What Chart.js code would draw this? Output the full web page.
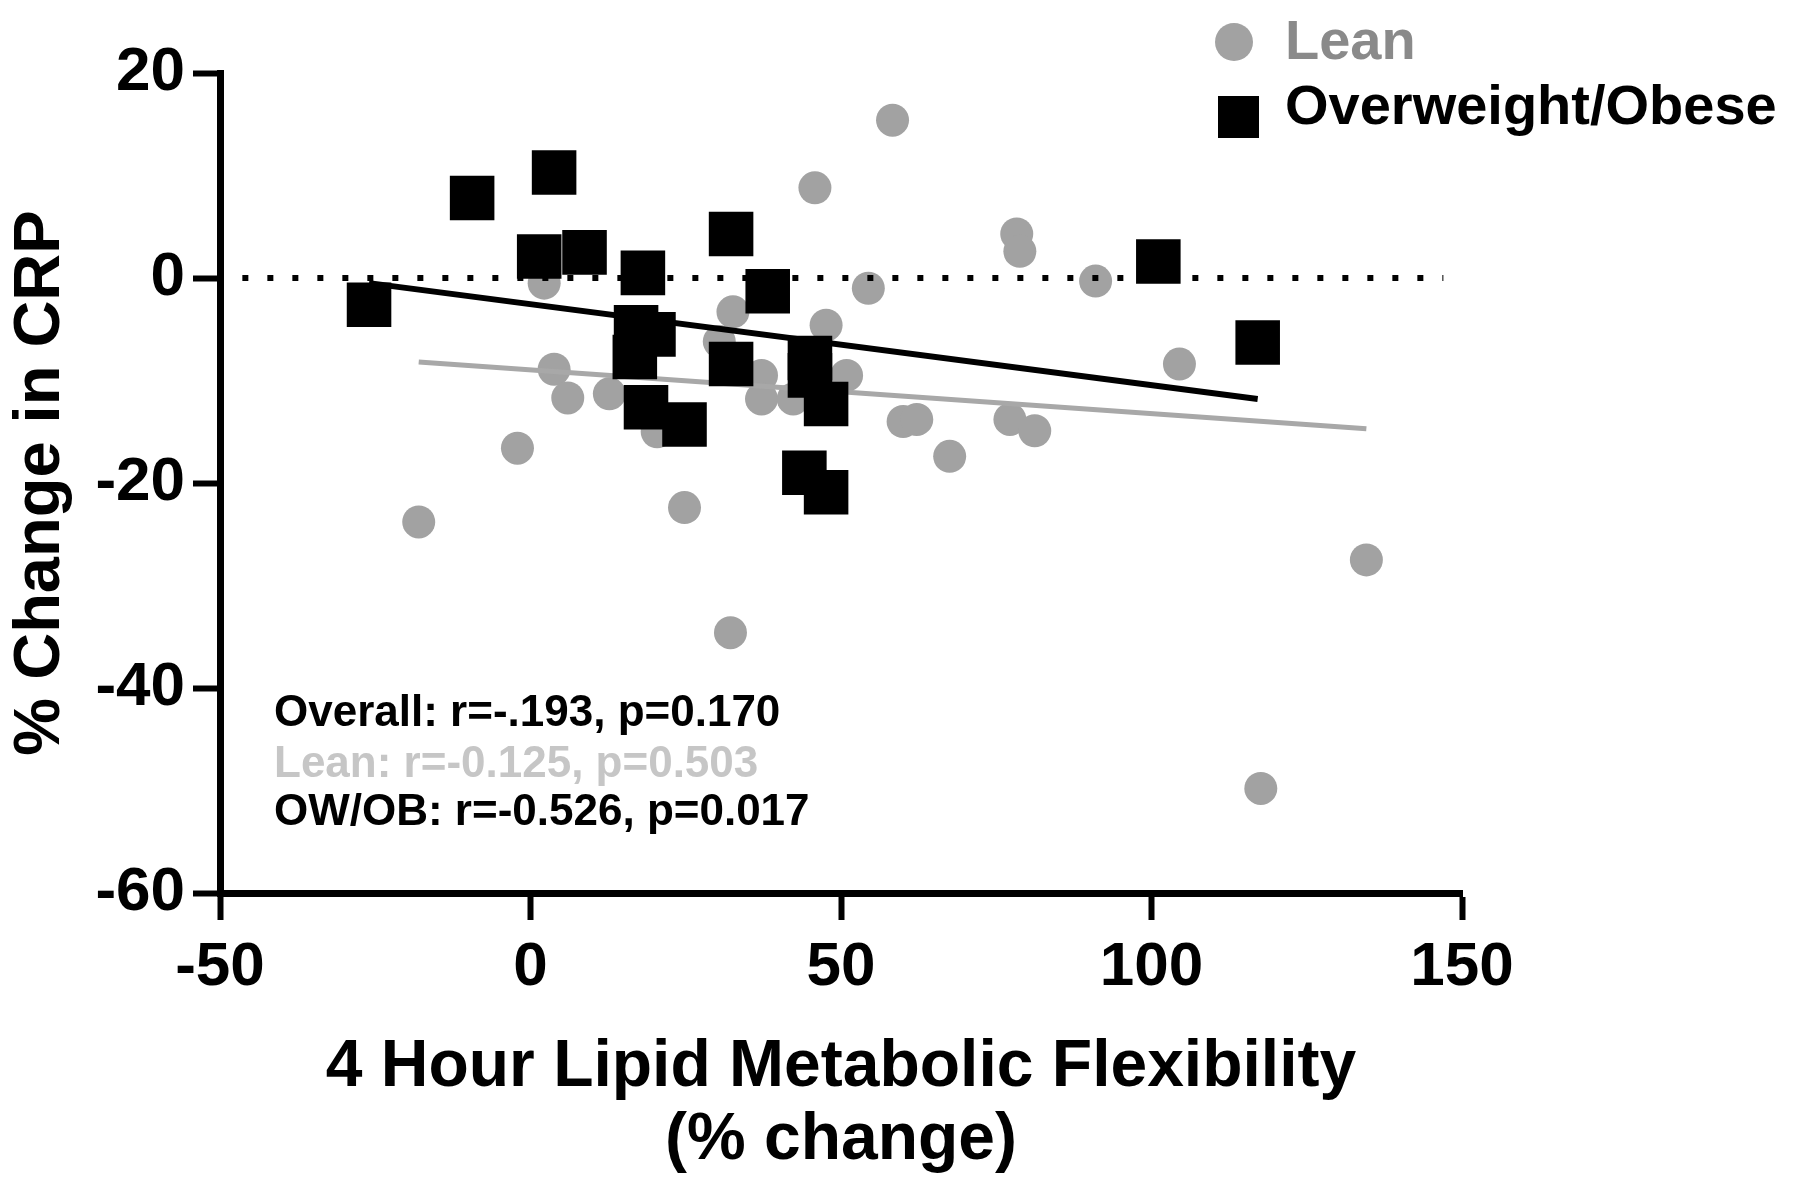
<!DOCTYPE html>
<html>
<head>
<meta charset="utf-8">
<script src="https://cdn.jsdelivr.net/npm/chart.js@4.4.1/dist/chart.umd.min.js"></script>
<style>
  html, body { margin: 0; padding: 0; background: #ffffff; }
  #wrap { width: 1800px; height: 1192px; position: relative; }
  canvas { display: block; }
</style>
</head>
<body>
<div id="wrap"><canvas id="c" width="1800" height="1192"></canvas></div>
<script>
// ---- data ----
const leanX = [58.3, 45.8, 78.3, 78.8, 54.4, 91.0, 2.2, 104.5, 3.8, 6.0, 12.7, -2.1, -18.0, 24.8, 32.2, 134.6, 117.6, 67.5, 60.0, 62.2, 77.2, 81.2, 32.6, 47.6, 50.9, 37.2, 37.2, 42.3, 30.4, 20.4];
const leanY = [15.4, 8.8, 4.3, 2.6, -1.0, -0.3, -0.5, -8.4, -8.9, -11.7, -11.3, -16.6, -23.8, -22.4, -34.6, -27.5, -49.8, -17.4, -14.0, -13.8, -13.8, -14.9, -3.3, -4.6, -9.5, -9.5, -11.8, -11.8, -6.2, -15.0];
const owX = [-26.0, -9.4, 1.4, 3.8, 8.7, 18.1, 17.0, 19.8, 16.8, 18.6, 24.8, 32.3, 38.2, 32.3, 45.0, 45.0, 47.6, 44.1, 47.6, 101.1, 117.1];
const owY = [-2.6, 7.8, 2.1, 10.3, 2.5, 0.5, -4.8, -5.5, -7.7, -12.6, -14.3, 4.3, -1.3, -8.4, -7.8, -9.5, -12.3, -19.0, -20.9, 1.6, -6.3];
const owFitX = [-26.0, 117.1];
const owFitY = [-0.5, -11.8];
const leanFitX = [-18.0, 134.6];
const leanFitY = [-8.2, -14.7];
const zeroX = [-46.4, 147.0];
const zeroY = [0, 0];
const xTicks = [-50, 0, 50, 100, 150];
const yTicks = [-60, -40, -20, 0, 20];
const seriesNames = ['Lean', 'Overweight/Obese'];
const statsText = ['Overall: r=-.193, p=0.170', 'Lean: r=-0.125, p=0.503', 'OW/OB: r=-0.526, p=0.017'];
const xTitle = ['4 Hour Lipid Metabolic Flexibility', '(% change)'];
const yTitle = '% Change in CRP';

const pts = (xs, ys) => xs.map((x, i) => ({ x: x, y: ys[i] }));
const FONT = '"Liberation Sans", Arial, Helvetica, sans-serif';
const LEAN_COL = '#a2a2a2';

const overlay = {
  id: 'overlay',
  afterDraw(chart) {
    const ctx = chart.ctx;
    ctx.save();
    // stats text
    ctx.font = 'bold 44px ' + FONT;
    ctx.textAlign = 'left';
    ctx.textBaseline = 'alphabetic';
    const cols = ['#000000', '#c6c6c6', '#000000'];
    const bases = [726, 777, 825];
    statsText.forEach((t, i) => { ctx.fillStyle = cols[i]; ctx.fillText(t, 274, bases[i]); });
    // legend
    ctx.fillStyle = LEAN_COL;
    ctx.beginPath(); ctx.arc(1234, 42, 19, 0, Math.PI * 2); ctx.fill();
    ctx.fillStyle = '#000000';
    ctx.fillRect(1218, 96, 41, 42);
    ctx.font = 'bold 56px ' + FONT;
    ctx.fillStyle = '#8a8a8a';
    ctx.fillText(seriesNames[0], 1285, 59);
    ctx.fillStyle = '#000000';
    ctx.fillText(seriesNames[1], 1285, 124);
    ctx.restore();
  }
};

new Chart(document.getElementById('c'), {
  type: 'scatter',
  data: {
    datasets: [
      { label: 'zero', type: 'line', data: pts(zeroX, zeroY), borderColor: '#000', borderWidth: 6,
        borderDash: [6, 19], borderCapStyle: 'butt', pointRadius: 0, fill: false, order: 0 },
      { label: 'OW fit', type: 'line', data: pts(owFitX, owFitY), borderColor: '#000', borderWidth: 6,
        pointRadius: 0, fill: false, order: 1 },
      { label: seriesNames[1], data: pts(owX, owY), pointStyle: 'rect', pointRadius: 31.5,
        backgroundColor: '#000', borderWidth: 0, order: 2 },
      { label: 'Lean fit', type: 'line', data: pts(leanFitX, leanFitY), borderColor: '#a8a8a8', borderWidth: 5,
        pointRadius: 0, fill: false, order: 3 },
      { label: seriesNames[0], data: pts(leanX, leanY), pointStyle: 'circle', pointRadius: 16.5,
        backgroundColor: LEAN_COL, borderWidth: 0, order: 4 }
    ]
  },
  options: {
    responsive: false,
    animation: false,
    events: [],
    layout: { padding: { top: 73, right: 338, bottom: 0, left: 0 } },
    plugins: { legend: { display: false }, tooltip: { enabled: false } },
    scales: {
      x: {
        type: 'linear', min: -50, max: 150,
        afterBuildTicks: s => { s.ticks = xTicks.map(v => ({ value: v })); },
        afterFit: s => { s.height = 299; },
        ticks: { font: { family: FONT, size: 62, weight: 'bold' }, color: '#000', padding: 11, maxRotation: 0 },
        grid: { drawOnChartArea: false, tickLength: 27, tickWidth: 6, tickColor: '#000' },
        border: { display: true, width: 7, color: '#000' },
        title: { display: true, text: xTitle, color: '#000', font: { family: FONT, size: 66, weight: 'bold', lineHeight: 1.1 },
                 padding: { top: 0, bottom: 15 } }
      },
      y: {
        type: 'linear', min: -60, max: 20,
        afterBuildTicks: s => { s.ticks = yTicks.map(v => ({ value: v })); },
        afterFit: s => { s.width = 220; },
        ticks: { font: { family: FONT, size: 62, weight: 'bold' }, color: '#000', padding: 8 },
        grid: { drawOnChartArea: false, tickLength: 27, tickWidth: 6, tickColor: '#000' },
        border: { display: true, width: 7, color: '#000' },
        title: { display: true, text: yTitle, color: '#000', font: { family: FONT, size: 65, weight: 'bold', lineHeight: 1.2 },
                 padding: { top: 2, bottom: 0 } }
      }
    }
  },
  plugins: [overlay]
});
</script>
</body>
</html>
